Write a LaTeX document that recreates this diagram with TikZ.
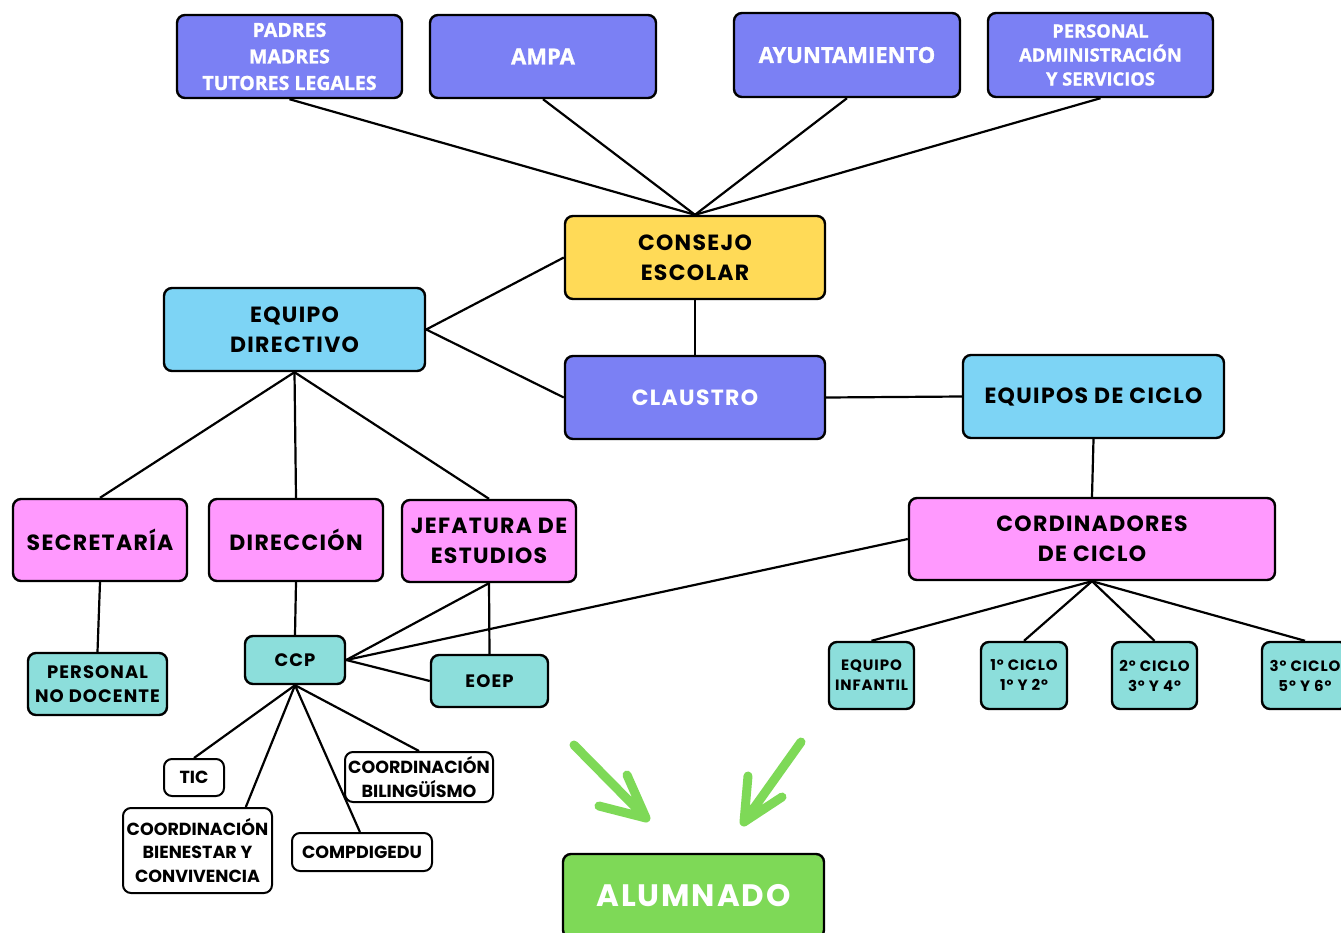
\documentclass[tikz,border=0pt]{standalone}
\usepackage{fontspec}
\setmainfont{Poppins}
\newfontfamily\opensans[FakeBold=1.2]{Open Sans}
\newfontfamily\spaced[LetterSpace=6]{Poppins}
\definecolor{boxviolet}{RGB}{123,128,244}
\definecolor{boxyellow}{RGB}{255,218,87}
\definecolor{boxblue}{RGB}{125,212,245}
\definecolor{boxpink}{RGB}{255,153,254}
\definecolor{boxteal}{RGB}{140,222,219}
\definecolor{boxgreen}{RGB}{126,217,87}
\tikzset{box/.style={draw=black,line width=2.4pt,rounded corners=8pt,align=center,inner sep=0pt,
    font=\spaced\bfseries\fontsize{22}{30}\selectfont}}

\begin{document}
\begin{tikzpicture}[x=1pt,y=-1pt,
        topbox/.style={box,fill=boxviolet,text=white,font=\opensans\bfseries\fontsize{19.5}{26.5}\selectfont},
        yellowbox/.style={box,fill=boxyellow},
        bluebox/.style={box,fill=boxblue},
        pinkbox/.style={box,fill=boxpink},
        tealbox/.style={box,fill=boxteal,font=\spaced\bfseries\fontsize{18}{24}\selectfont},
        smallbox/.style={box,fill=boxteal,font=\spaced\bfseries\fontsize{15}{20}\selectfont},
        whitebox/.style={box,fill=white,line width=2pt,font=\bfseries\fontsize{17.5}{23.5}\selectfont},
        edge/.style={line width=2.2pt},
        greenarrow/.style={draw=boxgreen,line width=9pt,line cap=round,line join=round}]
    \clip (0,0) rectangle (1341,932);
    \fill[white] (0,0) rectangle (1341,932);
    % top row
    \node[topbox,minimum width=225,minimum height=83] (padres) at (289.5,56.5) {PADRES\\MADRES\\TUTORES LEGALES};
    \node[topbox,minimum width=226,minimum height=83,font=\opensans\bfseries\fontsize{22}{26}\selectfont] (ampa) at (543,56.5) {AMPA};
    \node[topbox,minimum width=226,minimum height=84,font=\opensans\bfseries\fontsize{22}{26}\selectfont] (ayuntamiento) at (847,55) {AYUNTAMIENTO};
    \node[topbox,minimum width=225,minimum height=84,font=\opensans\bfseries\fontsize{18.3}{24}\selectfont] (pas) at (1100.5,55) {PERSONAL\\ADMINISTRACIÓN\\Y SERVICIOS};
    % middle
    \node[yellowbox,minimum width=260,minimum height=83] (consejo) at (695,257.5) {CONSEJO\\ESCOLAR};
    \node[bluebox,minimum width=261,minimum height=83] (directivo) at (294.5,329.5) {EQUIPO\\DIRECTIVO};
    \node[box,fill=boxviolet,text=white,minimum width=260,minimum height=83] (claustro) at (695,397.5) {CLAUSTRO};
    \node[bluebox,minimum width=261,minimum height=83] (ciclos) at (1093.5,396.5) {EQUIPOS DE CICLO};
    \node[pinkbox,minimum width=174,minimum height=82] (secretaria) at (100,540) {SECRETARÍA};
    \node[pinkbox,minimum width=174,minimum height=82] (direccion) at (296,540) {DIRECCIÓN};
    \node[pinkbox,minimum width=174,minimum height=82] (jefatura) at (489,541) {JEFATURA DE\\ESTUDIOS};
    \node[pinkbox,minimum width=366,minimum height=82] (cordinadores) at (1092,539) {CORDINADORES\\DE CICLO};
    % teal row
    \node[tealbox,minimum width=139,minimum height=62] (pnd) at (97.5,684) {PERSONAL\\NO DOCENTE};
    \node[tealbox,minimum width=100,minimum height=48] (ccp) at (295,660) {CCP};
    \node[tealbox,minimum width=117,minimum height=52] (eoep) at (489.5,681) {EOEP};
    \node[smallbox,minimum width=85,minimum height=67] (infantil) at (871.5,675.5) {EQUIPO\\INFANTIL};
    \node[smallbox,minimum width=86,minimum height=67] (ciclo1) at (1024,675.5) {1º CICLO\\1º Y 2º};
    \node[smallbox,minimum width=85,minimum height=67] (ciclo2) at (1154.5,675.5) {2º CICLO\\3º Y 4º};
    \node[smallbox,minimum width=86,minimum height=67] (ciclo3) at (1305,675.5) {3º CICLO\\5º Y 6º};
    % white row
    \node[whitebox,minimum width=60,minimum height=37] (tic) at (194,777.5) {TIC};
    \node[whitebox,minimum width=148,minimum height=50] (bilinguismo) at (419,777) {COORDINACIÓN\\BILINGÜÍSMO};
    \node[whitebox,minimum width=149,minimum height=85] (bienestar) at (197.5,850.5) {COORDINACIÓN\\BIENESTAR Y\\CONVIVENCIA};
    \node[whitebox,minimum width=140,minimum height=38] (compdigedu) at (362,852) {COMPDIGEDU};
    \node[box,fill=boxgreen,text=white,minimum width=261,minimum height=84,font=\spaced\bfseries\fontsize{31}{36}\selectfont] (alumnado) at (693.5,896) {ALUMNADO};
    % connectors
    \foreach \n in {padres,ampa,ayuntamiento,pas}
        \draw[edge] (\n.south) -- (consejo.north);
    \draw[edge] (consejo.west) -- (directivo.east) -- (claustro.west);
    \draw[edge] (consejo.south) -- (claustro.north);
    \draw[edge] (claustro.east) -- (ciclos.west);
    \draw[edge] (ciclos.south) -- (cordinadores.north);
    \foreach \n in {secretaria,direccion,jefatura}
        \draw[edge] (directivo.south) -- (\n.north);
    \draw[edge] (secretaria.south) -- (pnd.north);
    \draw[edge] (direccion.south) -- (ccp.north);
    \draw[edge] (jefatura.south) -- (ccp.east);
    \draw[edge] (jefatura.south) -- (eoep.north);
    \draw[edge] (ccp.east) -- (eoep.west);
    \draw[edge] (cordinadores.west) -- (ccp.east);
    \foreach \n in {infantil,ciclo1,ciclo2,ciclo3}
        \draw[edge] (cordinadores.south) -- (\n.north);
    \draw[edge] (ccp.south) -- (tic.north);
    \draw[edge] (ccp.south) -- (bienestar.42);
    \draw[edge] (ccp.south) -- (compdigedu.96);
    \draw[edge] (ccp.south) -- (bilinguismo.north);
    % green arrows
    \coordinate (leftstart) at (574,745);
    \coordinate (lefttip) at (646,818);
    \coordinate (rightstart) at (801,742);
    \coordinate (righttip) at (744,822);
    \draw[greenarrow] (leftstart) -- (lefttip) (599,806) -- (lefttip) -- (627,775);
    \draw[greenarrow] (rightstart) -- (righttip) (748,776) -- (righttip) -- (782,797);
\end{tikzpicture}
\end{document}
